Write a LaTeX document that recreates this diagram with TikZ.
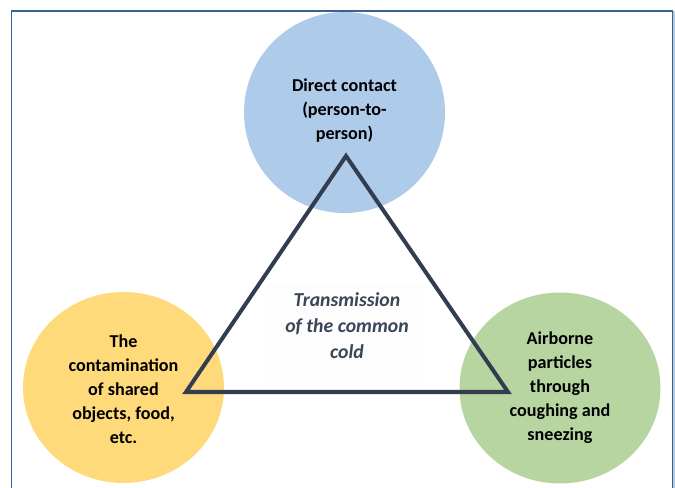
\documentclass[tikz,border=0pt]{standalone}
\usepackage{fontspec}
\setmainfont{Carlito}
\usetikzlibrary{shapes.geometric}
\definecolor{frameblue}{HTML}{3A6190}
\definecolor{frameshade}{HTML}{B8CCE0}
\definecolor{bubbleblue}{HTML}{AECBE9}
\definecolor{bubbleyellow}{HTML}{FFDA7A}
\definecolor{bubblegreen}{HTML}{B6D5A1}
\definecolor{slate}{HTML}{323E50}
\definecolor{titleink}{HTML}{3A4558}
\definecolor{panel}{HTML}{FDFDFD}
\tikzset{
  bubble/.style={ellipse, draw=none, minimum width=150.75pt, minimum height=143.25pt, inner sep=0pt},
  bubbletext/.style={align=center, font=\fontsize{13.6}{18}\selectfont\bfseries, text=black},
  hub/.style={align=center, font=\fontsize{14.8}{19.5}\selectfont\bfseries\itshape, text=titleink},
  edge/.style={draw=slate, line width=3pt, line join=miter},
}
\begin{document}
\begin{tikzpicture}[x=0.75pt, y=-0.75pt]
  \useasboundingbox (0,0) rectangle (675,488);
  % page frame (open at the bottom)
  \draw[frameshade, line width=0.8] (674,11) -- (674,488);
  \draw[frameblue, line width=1.1] (11.5,488) -- (11.5,11) -- (672.3,11) -- (672.3,488);

  % the three routes
  \node[bubble, fill=bubbleblue, minimum height=150.75pt] (contact) at (344.5,112.5) {};
  \node[bubble, fill=bubbleyellow] (objects) at (123.5,387.5) {};
  \node[bubble, fill=bubblegreen] (airborne) at (560,388) {};

  % centre label panel
  \fill[panel] (265,282) rectangle (425,383);

  % triangle linking the routes
  \coordinate (apex) at (346,156);
  \coordinate (lcorner) at (186,392);
  \coordinate (rcorner) at (508,392);
  \draw[edge] (apex) -- (lcorner) -- (rcorner) -- cycle;

  \node[bubbletext] (contactlabel) at (344.5,111) {Direct contact\\(person-to-\\person)};
  \node[bubbletext] (objectslabel) at (123.5,389) {The\\contamination\\of shared\\objects, food,\\etc.};
  \node[bubbletext] (airbornelabel) at (560,388) {Airborne\\particles\\through\\coughing and\\sneezing};
  \node[hub] (title) at (347,326) {Transmission\\of the common\\cold};
\end{tikzpicture}
\end{document}
